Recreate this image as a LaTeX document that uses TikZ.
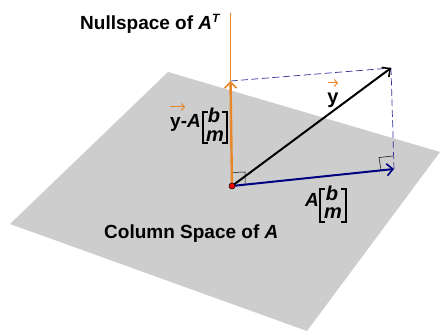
\documentclass[tikz,border=0pt]{standalone}
\usepackage{fontspec}
\setmainfont{Liberation Sans}
\usepackage{xcolor}
\usepackage{tikz}
\usetikzlibrary{arrows.meta,calc,positioning}
\definecolor{planegray}{RGB}{205,205,205}
\definecolor{nullorange}{RGB}{232,134,42}
\definecolor{colnavy}{RGB}{0,0,128}
\newcommand{\lblfont}{\fontsize{19pt}{20pt}\selectfont\bfseries}
\newcommand{\entryfont}{\fontsize{20pt}{20pt}\selectfont\bfseries\itshape}
\tikzset{
  lbl/.style={font=\lblfont,inner sep=0pt,text=black},
  entry/.style={font=\entryfont,inner sep=0pt,text=black},
  vec/.style={-{Straight Barb[length=6pt,width=12pt,line width=1.6pt]},line width=2pt},
  overarrow/.style={-{Straight Barb[length=3pt,width=7pt]},nullorange,line width=1pt},
  brack/.style={line width=1.6pt,black,line cap=butt},
  proj/.style={colnavy!80,dash pattern=on 7pt off 3.5pt,line width=0.7pt},
  rightmark/.style={black,line width=0.5pt}
}
\begin{document}
\begin{tikzpicture}[x=1pt,y=-1pt]
\useasboundingbox (0,0) rectangle (440,331);
\fill[planegray] (168,72) -- (440,152) -- (307,331) -- (10,224) -- cycle;
% key points
\coordinate (orig) at (232,186);
\coordinate (nulltop) at (230.5,13);
\coordinate (nulltip) at (230.5,81);
\coordinate (ytip) at (391,68);
\coordinate (atip) at (394,169);
% right angle marks
\draw[rightmark] (232.5,172.5) -- (245,172) -- (245,184);
\draw[rightmark] (393,156) -- (379,157.5) -- (381,170);
% projections
\draw[proj] (nulltip) -- (ytip);
\draw[proj] (ytip) -- (atip);
% the vectors
\draw[nullorange,line width=1pt] (nulltop) -- (nulltip);
\draw[vec,nullorange,line width=2.4pt] (orig) -- (nulltip);
\draw[vec,black] (orig) -- (ytip);
\draw[vec,colnavy] (orig) -- (atip);
\node[circle,fill=red,draw=black,line width=0.5pt,minimum size=6pt,inner sep=0pt] (origdot) at (orig) {};
% labels
\node[lbl,anchor=base west] (nulllbl) at (80,30) {Nullspace of \textit{A}\raisebox{7pt}{\fontsize{12pt}{12pt}\selectfont\textit{T}}};
\node[lbl,anchor=base west] (collbl) at (104,239) {Column Space of \textit{A}};
\node[lbl,anchor=base,font=\entryfont\upshape] (ylbl) at (333,104) {y};
\draw[overarrow] (328,83) -- (338,83);
% y-A[b m]
\node[lbl,anchor=base west] (ynull) at (170,128) {y-\textit{A}};
\node[entry] (bnull) at (214,115) {b};
\node[entry] (mnull) at (215,136) {m};
\draw[brack] (208,112) -- (203,112) -- (203,143) -- (208,143);
\draw[brack] (222,112) -- (227,112) -- (227,143) -- (222,143);
\draw[overarrow] (170,107) -- (185,107);
% A[b m]
\node[lbl,anchor=base west] (acol) at (305,207) {\textit{A}};
\node[entry] (bcol) at (332,193) {b};
\node[entry] (mcol) at (333,213) {m};
\draw[brack] (325,189) -- (320,189) -- (320,222) -- (325,222);
\draw[brack] (341,189) -- (346,189) -- (346,222) -- (341,222);
\end{tikzpicture}
\end{document}
